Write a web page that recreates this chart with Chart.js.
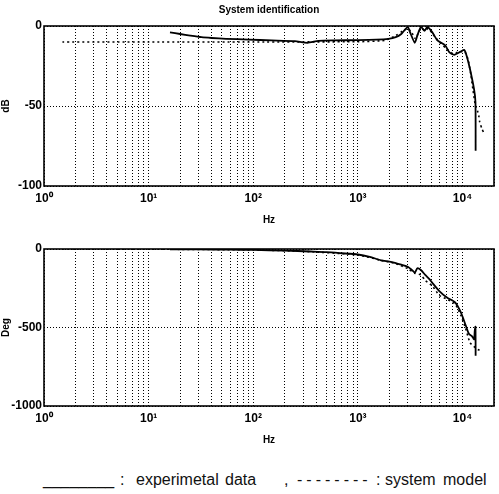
<!DOCTYPE html>
<html lang="en">
<head>
    <meta charset="UTF-8">
    <title>System identification</title>
    <script src="https://cdn.jsdelivr.net/npm/chart.js"></script>
    <style>
        body { margin: 0; background: #fff; }
        #wrap { position: relative; width: 499px; height: 494px; font-family: "Liberation Sans", Arial, sans-serif; }
        #magChart { position: absolute; left: 0; top: 0; }
        #phaseChart { position: absolute; left: 0; top: 228px; }
        #legend { position: absolute; left: 0; top: 472px; width: 499px; height: 20px; }
        #legend span {
            position: absolute; top: 0; font-size: 16px; line-height: 16px;
            color: #111; white-space: nowrap;
        }
    </style>
</head>
<body>
<div id="wrap">
    <canvas id="magChart" width="499" height="226"></canvas>
    <canvas id="phaseChart" width="499" height="218"></canvas>
    <div id="legend">
        <span style="left:43px">________</span>
        <span style="left:120px">:</span>
        <span style="left:136px">experimetal</span>
        <span style="left:225px">data</span>
        <span style="left:284px">,</span>
        <span style="left:297px; letter-spacing:4px">--------</span>
        <span style="left:376px">:</span>
        <span style="left:385px">system</span>
        <span style="left:443px">model</span>
    </div>
</div>

<script>
    // magnitude (dB) - experimental data
    const magFreqExp = [16, 20, 25, 32, 40, 55, 90, 150, 250, 330, 420, 600, 1000, 1500, 1950, 2300, 2600, 2810, 3000, 3200, 3500, 3700, 4000, 4350, 4600, 5150, 5750, 6800, 7500, 8350, 9000, 9600, 10400, 11000, 11800, 12900, 13300, 13350];
    const magExp = [-4, -5, -6, -7, -7.5, -8, -8.5, -9, -9.5, -10.5, -9.3, -9, -8.8, -8.5, -8, -7, -5, -2.4, -0.6, -5, -10.5, -6, -0.6, -3, -0.6, -4, -9, -12, -16.5, -18, -17, -16, -15, -19, -27, -39.6, -47.5, -78];

    // magnitude (dB) - system model
    const magFreqModel = [1.5, 10, 100, 1000, 1800, 2300, 2700, 3000, 3300, 3550, 3800, 4050, 4400, 4700, 5200, 6000, 7000, 8000, 9000, 9800, 10500, 11300, 12000, 12600, 13300, 13900, 14300, 14600, 15300, 16000];
    const magModel = [-10, -10, -10, -9.8, -9, -6, -3, -1.5, -4.5, -8, -4, -1.5, -3, -1.5, -5, -10, -14, -17, -16.5, -16, -16, -21, -30, -40, -50, -53, -56, -60, -64, -67];

    // phase (deg) - experimental data
    const phFreqExp = [16, 30, 60, 100, 200, 350, 500, 700, 1000, 1300, 1660, 2000, 2260, 2600, 3000, 3300, 3500, 3700, 4000, 4400, 4800, 5150, 6000, 7100, 8500, 9600, 10700, 11500, 12300, 12900, 13100, 13300, 13350];
    const phExp = [-2, -3, -4, -6, -10, -16, -20, -27, -35, -50, -72, -80, -88, -100, -113, -135, -150, -123, -134, -165, -190, -216, -268, -309, -340, -401, -484, -540, -555, -575, -520, -495, -680];

    // phase (deg) - system model
    const phFreqModel = [1.5, 10, 100, 300, 1000, 1660, 2260, 3000, 3500, 4000, 4400, 5150, 6000, 7100, 8500, 9600, 10700, 11800, 12800, 14000, 15300];
    const phModel = [0, -1, -6, -15, -38, -72, -92, -125, -155, -165, -200, -235, -295, -320, -350, -420, -505, -597, -620, -640, -652];

    // gridline positions and decade labels
    const gridFreqs = [];
    for (let k = 0; k <= 4; k++) {
        for (let m = 1; m <= 9; m++) {
            const v = m * Math.pow(10, k);
            if (v <= 20000) gridFreqs.push(v);
        }
    }
    const decadeLabels = { 1: '10⁰', 10: '10¹', 100: '10²', 1000: '10³', 10000: '10⁴' };

    const toXY = (xs, ys) => xs.map((x, i) => ({ x: x, y: ys[i] }));

    // solid frame around plot area
    const framePlugin = {
        id: 'frame',
        afterDatasetsDraw(chart) {
            const a = chart.chartArea;
            const ctx = chart.ctx;
            ctx.save();
            ctx.strokeStyle = '#000';
            ctx.lineWidth = 1.6;
            ctx.strokeRect(a.left, a.top, a.right - a.left, a.bottom - a.top);
            ctx.restore();
        }
    };

    function makeConfig(expData, modelData, yMin, yMax, yStep, yTitle, titleText, padTop) {
        return {
            type: 'line',
            data: {
                datasets: [{
                    label: 'experimetal data',
                    data: expData,
                    borderColor: '#000',
                    borderWidth: 1.8,
                    pointRadius: 0,
                    tension: 0.2,
                    fill: false
                }, {
                    label: 'system model',
                    data: modelData,
                    borderColor: '#000',
                    borderWidth: 1.6,
                    borderDash: [2, 3],
                    pointRadius: 0,
                    tension: 0.2,
                    fill: false
                }]
            },
            options: {
                responsive: false,
                animation: false,
                layout: { padding: { left: 0, right: 1, top: padTop, bottom: 0 } },
                plugins: {
                    legend: { display: false },
                    tooltip: { enabled: false },
                    title: {
                        display: !!titleText,
                        text: titleText,
                        fullSize: false,
                        color: '#000',
                        font: { family: 'Liberation Sans', size: 10, weight: 'bold' },
                        padding: { top: 4, bottom: 10 }
                    }
                },
                scales: {
                    x: {
                        type: 'logarithmic',
                        min: 1,
                        max: 20000,
                        afterBuildTicks: (s) => { s.ticks = gridFreqs.map(v => ({ value: v })); },
                        afterFit: (s) => { s.height = 40; },
                        ticks: {
                            autoSkip: false,
                            maxRotation: 0,
                            padding: 5,
                            color: '#000',
                            font: { family: 'Liberation Sans', size: 12, weight: 'bold' },
                            callback: (v) => decadeLabels[v] || ''
                        },
                        grid: { color: '#000', lineWidth: 1, drawTicks: false },
                        border: { display: false, dash: [1, 2] },
                        title: {
                            display: true,
                            text: 'Hz',
                            color: '#000',
                            padding: 0,
                            font: { family: 'Liberation Sans', size: 10, weight: 'bold' }
                        }
                    },
                    y: {
                        min: yMin,
                        max: yMax,
                        afterFit: (s) => { s.width = 44; },
                        ticks: {
                            stepSize: yStep,
                            padding: 2,
                            color: '#000',
                            font: { family: 'Liberation Sans', size: 12, weight: 'bold' },
                            callback: (v) => String(v)
                        },
                        grid: { color: '#000', lineWidth: 1, drawTicks: false },
                        border: { display: false, dash: [1, 2] },
                        title: {
                            display: true,
                            text: yTitle,
                            color: '#000',
                            padding: 0,
                            font: { family: 'Liberation Sans', size: 10, weight: 'bold' }
                        }
                    }
                }
            },
            plugins: [framePlugin]
        };
    }

    new Chart(document.getElementById('magChart'),
        makeConfig(toXY(magFreqExp, magExp), toXY(magFreqModel, magModel), -100, 0, 50, 'dB', 'System identification', 0));
    new Chart(document.getElementById('phaseChart'),
        makeConfig(toXY(phFreqExp, phExp), toXY(phFreqModel, phModel), -1000, 0, 500, 'Deg', '', 21));
</script>
</body>
</html>
